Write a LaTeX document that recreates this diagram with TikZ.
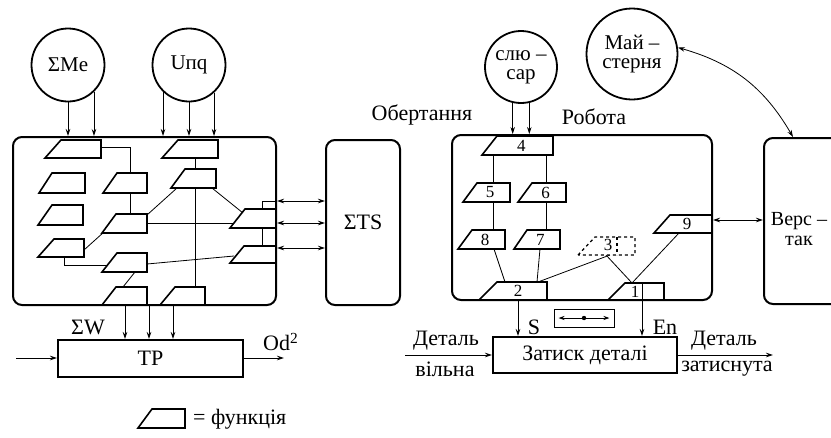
\documentclass[tikz,border=0pt]{standalone}
\usepackage{fontspec}
\setmainfont{Liberation Serif}
\usetikzlibrary{calc,arrows.meta}
\newcommand{\fnbox}[7][]{%
  \coordinate (#2-bl) at (#3,#7);
  \coordinate (#2-tl) at (#4,#6);
  \coordinate (#2-tr) at (#5,#6);
  \coordinate (#2-br) at (#5,#7);
  \path[fnshape,#1] (#2-bl) -- (#2-tl) -- (#2-tr) -- (#2-br) -- cycle;
  \coordinate (#2) at ({(#3+#4)/4+#5/2},{(#6+#7)/2});
}
\tikzset{
  bigbox/.style={draw, line width=2pt, rounded corners=9pt, inner sep=0pt},
  plainbox/.style={draw, line width=2pt, inner sep=0pt},
  circ/.style={draw, circle, line width=1.8pt, inner sep=0pt, align=center, font=\fontsize{21}{19}\selectfont},
  fnshape/.style={draw, line width=1.6pt, fill=white, line join=miter},
  conn/.style={draw, line width=0.8pt},
  arr/.style={conn, -{Stealth[length=7pt,width=4.5pt]}},
  darr/.style={conn, {Stealth[length=7pt,width=4.5pt]}-{Stealth[length=7pt,width=4.5pt]}},
  lbl/.style={inner sep=0pt, font=\fontsize{22}{20}\selectfont},
  numlbl/.style={inner sep=0pt, font=\fontsize{17}{17}\selectfont},
}
\begin{document}
\begin{tikzpicture}[x=1pt,y=-1pt]
\useasboundingbox (0,0) rectangle (831,437);
\clip (0,0) rectangle (831,437);

% ================= LEFT PART =================
\node[circ, minimum size=73pt] (Me) at (68,65) {ΣMe};
\node[circ, minimum size=73pt] (Umq) at (189,65) {Uпq};
\node[bigbox, minimum width=263pt, minimum height=168pt] (L) at (144.5,221) {};
\node[bigbox, minimum width=74pt, minimum height=165pt] (TS) at (363,222.5) {};
\node[lbl] at (TS.center) {ΣTS};
\node[plainbox, minimum width=185pt, minimum height=37pt] (TP) at (150.5,358.5) {};
\node[lbl] at (TP.center) {TP};

\draw[arr] (Me.south) -- (Me.south |- L.north);
\draw[arr] (Me.-46) -- (Me.-46 |- L.north);
\draw[arr] (Umq.-134) -- (Umq.-134 |- L.north);
\draw[arr] (Umq.south) -- (Umq.south |- L.north);
\draw[arr] (Umq.-48) -- (Umq.-48 |- L.north);

% connectors inside left box
\draw[conn] (101,147) -| (130,214);
\draw[conn] (195,158) -- (195,287);
\draw[conn] (212,188) -- (243,213);
\draw[conn] (147,215) -- (177,188);
\draw[conn] (84,250) -- (104,232);
\draw[conn] (147,223) -- (238,223);
\draw[conn] (147,264) -- (234,256);
\draw[conn] (64,257) |- (108,265);
\draw[conn] (135,272) -- (123,287);
\draw[conn] (262,209) |- (L.east |- 0,201);
\draw[conn] (262,228) -- (262,246);

\fnbox{F1}{45}{61}{101}{140}{158}
\fnbox{F2}{162}{178}{218}{140}{158}
\fnbox{F3}{39}{52}{85}{173}{193}
\fnbox{F4}{103}{117}{147}{173}{193}
\fnbox{F5}{171}{185}{216}{169}{188}
\fnbox{F6}{38}{52}{83}{205}{225}
\fnbox{F7}{102}{116}{147}{214}{233}
\fnbox{F8}{230}{245}{276}{209}{228}
\fnbox{F9}{38}{54}{84}{239}{257}
\fnbox{F10}{102}{117}{147}{253}{272}
\fnbox{F11}{230}{244}{276}{246}{263}
\fnbox{F12}{102}{116}{147}{287}{305}
\fnbox{F13}{160}{175}{205}{287}{305}

\foreach \yy in {201,223,248} \draw[darr] (L.east |- 0,\yy) -- (TS.west |- 0,\yy);

\foreach \xx in {125,149,173} \draw[arr] (L.south -| \xx,0) -- (TP.north -| \xx,0);
\node[lbl] (SW) at (88,327) {ΣW};
\coordinate (TPin) at (16,358);
\coordinate (TPout) at (284,358);
\draw[arr] (TPin) -- (TP.west |- TPin);
\draw[arr] (TP.east |- TPout) -- (TPout);
\node[lbl, anchor=west] (Od) at (263,342) {Od\textsuperscript{2}};

% legend
\fnbox{LG}{138}{152}{185}{409}{428}
\node[lbl, anchor=west] (LGt) at (193,419) {= функція};

% ================= RIGHT PART =================
\node[circ, minimum size=72pt] (Sl) at (521,67) {слю –\\сар};
\node[circ, minimum size=91pt] (Ms) at (632,54) {Май –\\стерня};
\node[lbl] (Ob) at (422,115) {Обертання};
\node[lbl] (Rb) at (594,117) {Робота};
\node[bigbox, minimum width=260pt, minimum height=165pt] (R) at (582,217.5) {};
\node[bigbox, minimum width=100pt, minimum height=166pt, anchor=north west] (V) at (763,137) {};
\node[lbl, align=center, font=\fontsize{20}{20}\selectfont] (Vt) at (799,229) {Верс –\\так};

\draw[arr] (Sl.-103) -- (Sl.-103 |- R.north);
\draw[arr] (Sl.-77) -- (Sl.-77 |- R.north);
\coordinate (Vtop) at (793,137);
\draw[darr] (Ms.8) to[bend left=22] (Vtop);

% connectors inside right box
\draw[conn] (493,155) -- (493,230);
\draw[conn] (546,155) -- (546,230);
\draw[conn] (494,249) -- (505,282);
\draw[conn] (540,249) -- (537,282);
\draw[conn] (610,255) -- (538,282);
\draw[conn] (606,255) -- (632,283);
\draw[conn] (679,233) -- (632,283);

\fnbox{P4}{482}{497}{553}{136}{155}
\fnbox{P5}{463}{477}{510}{183}{202}
\fnbox{P6}{518}{532}{566}{183}{202}
\fnbox{P8}{458}{472}{505}{230}{249}
\fnbox{P7}{514}{527}{560}{230}{249}
\fnbox[dashed, line width=1.3pt]{P3}{578}{595}{635}{237}{255}
\fnbox{P9}{654}{670}{712}{215}{233}
\fnbox{P2}{479}{497}{547}{282}{300}
\fnbox{P1}{608}{625}{664}{283}{300}
\draw[conn, dashed, line width=1.3pt] (617,237) -- (617,255);
\draw[conn] (642,283) -- (642,300);

\node[numlbl] at (P4) {4};
\node[numlbl] at (P5) {5};
\node[numlbl] at (P6) {6};
\node[numlbl] at (P8) {8};
\node[numlbl] at (P7) {7};
\node[numlbl] at (608,245) {3};
\node[numlbl] at (P9) {9};
\node[numlbl] at (518,291) {2};
\node[numlbl] at (635,292) {1};

\draw[darr] (R.east |- 0,220) -- (V.west |- 0,220);

\node[plainbox, minimum width=184pt, minimum height=36pt] (Z) at (585,355) {};
\node[lbl] at (Z.center) {Затиск деталі};
\draw[arr] (518,300) -- (Z.north -| 518,0);
\draw[arr] (642,300) -- (Z.north -| 642,0);
\node[lbl] (Slbl) at (534,327) {S};
\node[lbl] (Enlbl) at (665,327) {En};

\node[draw, line width=1pt, minimum width=60pt, minimum height=18pt, inner sep=0pt] (sm) at (584,318) {};
\draw[conn, line width=1pt, {Stealth[length=6pt,width=4pt]}-{Stealth[length=6pt,width=4pt]}] ($(sm.west)+(5,0)$) -- ($(sm.east)+(-5,0)$);
\fill (sm.center) circle (2.2pt);

\coordinate (Zin) at (405,355);
\coordinate (Zout) at (773,355);
\draw[arr] (Zin) -- (Z.west);
\draw[arr] (Z.east) -- (Zout);
\node[lbl] at (446,341) {Деталь};
\node[lbl] at (445,369) {вільна};
\node[lbl] at (724,341) {Деталь};
\node[lbl] at (727,369) {затиснута};
\end{tikzpicture}
\end{document}
